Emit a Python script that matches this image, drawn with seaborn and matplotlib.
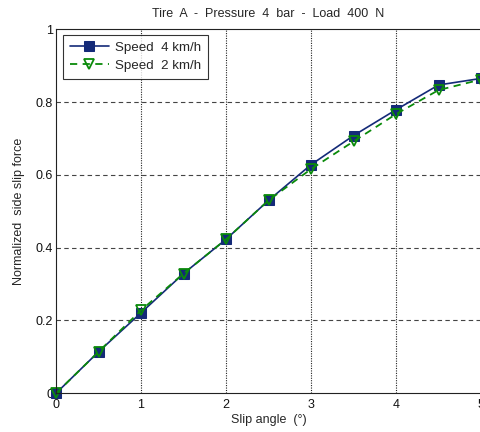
import matplotlib
matplotlib.use("Agg")
import matplotlib.pyplot as plt
import seaborn as sns
import pandas as pd

slip_angle = [0, 0.5, 1, 1.5, 2, 2.5, 3, 3.5, 4, 4.5, 5]
speed4 = [0.0, 0.114, 0.221, 0.329, 0.423, 0.530, 0.628, 0.708, 0.779, 0.847, 0.865]
speed2 = [0.0, 0.114, 0.228, 0.329, 0.423, 0.530, 0.616, 0.692, 0.767, 0.833, 0.862]
series_names = ["Speed  4 km/h", "Speed  2 km/h"]
x_ticks = [0, 1, 2, 3, 4, 5]
y_ticks = [0, 0.2, 0.4, 0.6, 0.8, 1]
y_ticklabels = ["0", "0.2", "0.4", "0.6", "0.8", "1"]

sns.set_theme(style="white")
plt.rcParams["font.family"] = ["Liberation Sans", "DejaVu Sans"]

df4 = pd.DataFrame({"x": slip_angle, "y": speed4})
df2 = pd.DataFrame({"x": slip_angle, "y": speed2})

fig = plt.figure(figsize=(4.8, 4.32), dpi=100)
ax = fig.add_axes([0.1167, 0.0896, 0.8855, 0.8426])

navy = "#142a78"
green = "#0a8a0a"
sns.lineplot(data=df4, x="x", y="y", ax=ax, color=navy, linewidth=1.2,
             marker="s", markersize=6.5, markerfacecolor=navy,
             markeredgecolor=navy, label=series_names[0], clip_on=False)
sns.lineplot(data=df2, x="x", y="y", ax=ax, color=green, linewidth=1.3,
             linestyle=(0, (4, 3)), marker="v", markersize=6.5,
             markerfacecolor="none", markeredgecolor=green,
             markeredgewidth=1.3, label=series_names[1], clip_on=False)

ax.set_xlim(0, 5)
ax.set_ylim(0, 1)
ax.set_xticks(x_ticks)
ax.set_yticks(y_ticks)
ax.set_yticklabels(y_ticklabels)

for y in y_ticks[1:-1]:
    ax.axhline(y, color="#444444", linestyle=(0, (4, 3)), linewidth=0.8, zorder=0)
for x in x_ticks[1:-1]:
    ax.axvline(x, color="#222222", linestyle=(0, (1, 1.2)), linewidth=0.8, zorder=0)

for s in ax.spines.values():
    s.set_color("#222222")
    s.set_linewidth(0.8)
ax.spines["right"].set_visible(False)

ax.tick_params(axis="both", direction="in", length=3, width=0.6,
               labelsize=9, colors="#111111")
ax.tick_params(axis="x", pad=4)
ax.tick_params(axis="y", pad=2)
ax.set_xlabel("Slip angle  (°)", fontsize=9, labelpad=2)
ax.set_ylabel("Normalized  side slip force", fontsize=9, labelpad=8)
ax.set_title("Tire  A  -  Pressure  4  bar  -  Load  400  N", fontsize=9, pad=9)

leg = ax.legend(loc="upper left", fontsize=9.6, frameon=True, fancybox=False,
                edgecolor="black", borderpad=0.5, handlelength=2.9,
                handletextpad=0.5, labelspacing=0.45,
                bbox_to_anchor=(0.017, 0.985), borderaxespad=0)
leg.get_frame().set_linewidth(0.8)

fig.savefig("out.png", dpi=100)
